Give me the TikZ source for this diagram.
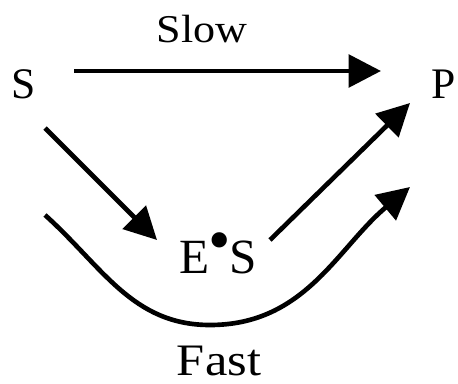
\documentclass[tikz,border=0pt]{standalone}
\usepackage{fontspec}
\setmainfont{LiberationSerif}[Extension=.ttf,UprightFont=*-Regular,BoldFont=*-Bold]
\usetikzlibrary{calc,arrows.meta}

\begin{document}
\begin{tikzpicture}[x=0.025cm,y=0.025cm,
  arr/.style={line width=3.3pt,-{Triangle[length=23pt,width=23pt]}},
  lbl/.style={inner sep=0pt,anchor=base}]
\useasboundingbox (0,0) rectangle (458,383);

% species
\node[lbl,font=\fontsize{31}{37}\selectfont] (S) at (24,285) {S};
\node[lbl,font=\fontsize{31}{37}\selectfont] (P) at (444,285) {P};
\node[lbl,font=\fontsize{35}{42}\selectfont] (ES) at (218,110)
  {E\kern-.02em\raisebox{.24em}{\scalebox{1.3}{\textbullet}}\kern-.02em S};

% pathway labels
\node[lbl,font=\fontsize{28}{34}\selectfont] (slow) at (202,340) {\scalebox{1.12}[1]{Slow}};
\node[lbl,font=\fontsize{32}{38}\selectfont] (fast) at (219,8) {\scalebox{1.12}[1]{Fast}};

\coordinate (low) at (210,58);

\draw[arr] ($(S.base)+(50,27)$) -- ($(P.base)+(-63,27)$);
\draw[arr] ($(S.base)+(21,-30)$) -- ($(ES.base)+(-61,33)$);
\draw[arr] ($(ES.base)+(52,33)$) -- ($(P.base)+(-34,-5)$);
\draw[arr] ($(S.base)+(21,-117)$) to[out=-42,in=180] (low)
  to[out=0,in=220] ($(P.base)+(-34,-89)$);

\end{tikzpicture}
\end{document}
